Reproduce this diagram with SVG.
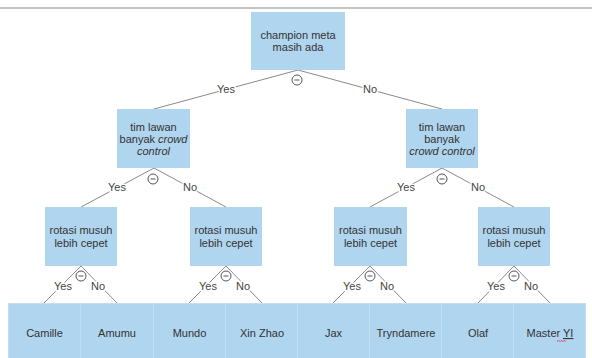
<svg xmlns="http://www.w3.org/2000/svg" width="592" height="358" viewBox="0 0 592 358">
<style>
.box{fill:#b0d5ee;}
.leaf{fill:#b0d5ee;stroke:#c3def2;stroke-width:1;}
.t{font-family:"Liberation Sans",Arial,sans-serif;font-size:11px;fill:#333;text-anchor:middle;}
.lbl{font-family:"Liberation Sans",Arial,sans-serif;font-size:11px;fill:#444;text-anchor:middle;paint-order:stroke;stroke:#fff;stroke-width:3px;}
.e{stroke:#8a8a8a;stroke-width:1;fill:none;}
.c{fill:#fff;stroke:#555;stroke-width:1;}
</style>
<defs>
<g id="toggle"><circle class="c" r="5"/><line x1="-2.5" y1="0" x2="2.5" y2="0" stroke="#555" stroke-width="1"/></g>
</defs>
<rect width="592" height="358" fill="#fff"/>
<line x1="0" y1="8" x2="592" y2="8" stroke="#b0b0b0" stroke-width="1.5"/>
<g id="connectors">
<line class="e" x1="298" y1="70" x2="154" y2="109"/>
<line class="e" x1="298" y1="70" x2="442" y2="109"/>
<line class="e" x1="154" y1="168" x2="81" y2="207"/>
<line class="e" x1="154" y1="168" x2="226" y2="207"/>
<line class="e" x1="442" y1="168" x2="370" y2="207"/>
<line class="e" x1="442" y1="168" x2="514" y2="207"/>
<line class="e" x1="81" y1="266" x2="44" y2="303"/>
<line class="e" x1="81" y1="266" x2="117" y2="303"/>
<line class="e" x1="226" y1="266" x2="189" y2="303"/>
<line class="e" x1="226" y1="266" x2="262" y2="303"/>
<line class="e" x1="370" y1="266" x2="333" y2="303"/>
<line class="e" x1="370" y1="266" x2="406" y2="303"/>
<line class="e" x1="514" y1="266" x2="478" y2="303"/>
<line class="e" x1="514" y1="266" x2="550" y2="303"/>
<text class="lbl" x="226" y="93">Yes</text>
<text class="lbl" x="370" y="93">No</text>
<text class="lbl" x="117" y="191">Yes</text>
<text class="lbl" x="190" y="191">No</text>
<text class="lbl" x="406" y="191">Yes</text>
<text class="lbl" x="478" y="191">No</text>
<text class="lbl" x="63" y="290">Yes</text>
<text class="lbl" x="98" y="290">No</text>
<text class="lbl" x="208" y="290">Yes</text>
<text class="lbl" x="243" y="290">No</text>
<text class="lbl" x="352" y="290">Yes</text>
<text class="lbl" x="387" y="290">No</text>
<text class="lbl" x="496" y="290">Yes</text>
<text class="lbl" x="531" y="290">No</text>
<use href="#toggle" x="297" y="80"/>
<use href="#toggle" x="153" y="179"/>
<use href="#toggle" x="442" y="179"/>
<use href="#toggle" x="81" y="276"/>
<use href="#toggle" x="226" y="276"/>
<use href="#toggle" x="370" y="276"/>
<use href="#toggle" x="514" y="276"/>
</g>
<g id="root"><rect class="box" x="251" y="12" width="94" height="58"/>
<text class="t" x="298" y="39">champion meta</text><text class="t" x="298" y="51">masih ada</text></g>
<g id="cc-left"><rect class="box" x="117" y="109" width="73" height="59"/>
<text class="t" x="153.5" y="131">tim lawan</text><text class="t" x="153.5" y="143">banyak <tspan font-style="italic">crowd</tspan></text><text class="t" x="153.5" y="155" font-style="italic">control</text></g>
<g id="cc-right"><rect class="box" x="406" y="109" width="72" height="59"/>
<text class="t" x="442" y="131">tim lawan</text><text class="t" x="442" y="143">banyak</text><text class="t" x="442" y="155" font-style="italic">crowd control</text></g>
<g id="rot-1"><rect class="box" x="45" y="207" width="72" height="59"/>
<text class="t" x="81" y="234">rotasi musuh</text><text class="t" x="81" y="247">lebih cepet</text></g>
<g id="rot-2"><rect class="box" x="190" y="207" width="72" height="59"/>
<text class="t" x="226" y="234">rotasi musuh</text><text class="t" x="226" y="247">lebih cepet</text></g>
<g id="rot-3"><rect class="box" x="334" y="207" width="73" height="59"/>
<text class="t" x="370.5" y="234">rotasi musuh</text><text class="t" x="370.5" y="247">lebih cepet</text></g>
<g id="rot-4"><rect class="box" x="478" y="207" width="72" height="59"/>
<text class="t" x="514" y="234">rotasi musuh</text><text class="t" x="514" y="247">lebih cepet</text></g>
<g id="leaf-camille"><rect class="leaf" x="8.5" y="303.5" width="72" height="56"/><text class="t" x="44.5" y="337">Camille</text></g>
<g id="leaf-amumu"><rect class="leaf" x="80.5" y="303.5" width="73" height="56"/><text class="t" x="117" y="337">Amumu</text></g>
<g id="leaf-mundo"><rect class="leaf" x="153.5" y="303.5" width="72" height="56"/><text class="t" x="189.5" y="337">Mundo</text></g>
<g id="leaf-xinzhao"><rect class="leaf" x="225.5" y="303.5" width="72" height="56"/><text class="t" x="262" y="337">Xin Zhao</text></g>
<g id="leaf-jax"><rect class="leaf" x="297.5" y="303.5" width="72" height="56"/><text class="t" x="333.5" y="337">Jax</text></g>
<g id="leaf-tryndamere"><rect class="leaf" x="369.5" y="303.5" width="72" height="56"/><text class="t" x="406" y="337">Tryndamere</text></g>
<g id="leaf-olaf"><rect class="leaf" x="441.5" y="303.5" width="72" height="56"/><text class="t" x="478" y="337">Olaf</text></g>
<g id="leaf-masteryi"><rect class="leaf" x="513.5" y="303.5" width="72" height="56"/><text class="t" x="550" y="337">Master <tspan text-decoration="underline">YI</tspan></text>
<path d="M557 341.5 l1.5 -1 l1.5 1 l1.5 -1 l1.5 1 l1.5 -1 l1.5 1" fill="none" stroke="#e0306a" stroke-width="0.8"/></g>
</svg>
